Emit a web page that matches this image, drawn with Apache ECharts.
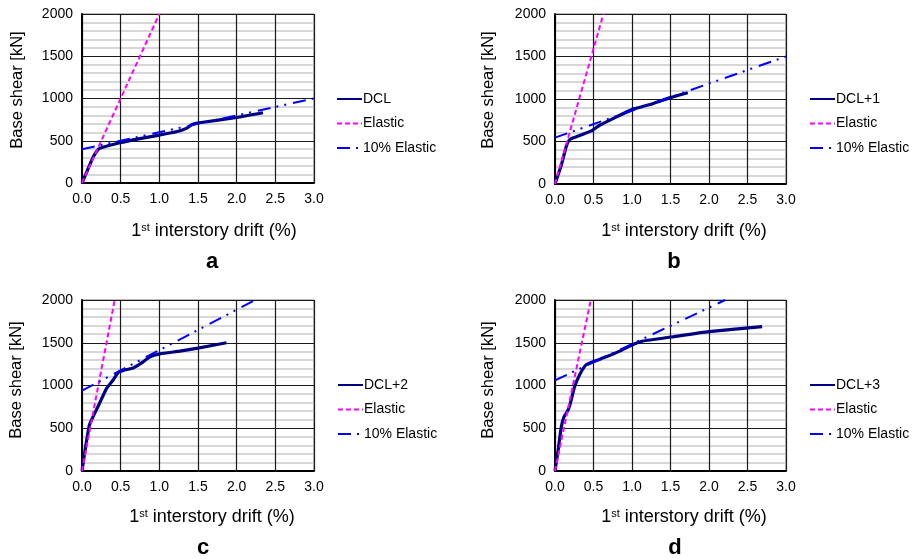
<!DOCTYPE html>
<html>
<head>
<meta charset="utf-8">
<script src="https://cdn.jsdelivr.net/npm/echarts@6/dist/echarts.min.js"></script>
<style>
html,body{margin:0;padding:0;background:#fff;}
#chart{width:919px;height:559px;}
</style>
</head>
<body>
<div id="chart"></div>
<script>
// ---- data ----
const panelLetters = ['a', 'b', 'c', 'd'];
const dclNames = ['DCL', 'DCL+1', 'DCL+2', 'DCL+3'];
const xTicks = [0, 0.5, 1.0, 1.5, 2.0, 2.5, 3.0];
const yTicks = [0, 500, 1000, 1500, 2000];

const dclA = [[0,0],[0.07,150],[0.146,311],[0.21,398],[0.26,420],[0.49,476],[0.75,525],[1.0,567],[1.22,606],[1.35,646],[1.4,680],[1.44,697],[1.52,713],[2.0,775],[2.34,831]];
const dclB = [[0,0],[0.082,223],[0.147,445],[0.19,523],[0.277,555],[0.472,625],[0.58,691],[0.8,790],[1.0,875],[1.27,945],[1.5,1016],[1.725,1074]];
const dclC = [[0,0],[0.026,161],[0.06,358],[0.095,535],[0.138,626],[0.21,760],[0.32,969],[0.405,1067],[0.47,1154],[0.534,1177],[0.663,1205],[0.77,1264],[0.878,1335],[1.007,1370],[1.266,1402],[1.5,1437],[1.868,1500]];
const dclD = [[0,0],[0.04,240],[0.082,516],[0.117,634],[0.17,713],[0.199,791],[0.255,988],[0.32,1126],[0.385,1224],[0.43,1256],[0.667,1335],[0.84,1402],[1.013,1480],[1.143,1520],[1.506,1567],[2.0,1630],[2.69,1689]];

const elasticA = [[0,0],[1.0,2000]];
const elasticB = [[0,0],[0.629,2000]];
const elasticC = [[0,0],[0.423,2000]];
const elasticD = [[0,0],[0.465,2000]];

const tenA = [[0,400],[3,1000]];
const tenB = [[0,545],[3,1500]];
const tenC = [[0,940],[2.24,2000]];
const tenD = [[0,1060],[2.21,2000]];

const dclData = [dclA, dclB, dclC, dclD];
const elasticData = [elasticA, elasticB, elasticC, elasticD];
const tenData = [tenA, tenB, tenC, tenD];

// ---- layout ----
const FONT = '"Liberation Sans", Arial, sans-serif';
const grids = [
  {left: 82, top: 14, width: 232, height: 169},
  {left: 555, top: 14, width: 231, height: 170},
  {left: 82, top: 300, width: 232, height: 171},
  {left: 555, top: 300, width: 231, height: 171}
];
const legendPos = [[336, 92], [809, 92], [337, 378], [809, 378]];
const xTitlePos = [[214, 231], [684, 231], [212, 517], [684, 517]];
const yTitlePos = [[17, 90], [488, 90], [16, 380], [488, 380]];
const letterPos = [[212, 262], [674, 262], [203, 548], [675, 548]];

const option = {
  animation: false,
  backgroundColor: '#fff',
  textStyle: {fontFamily: FONT},
  grid: grids.map(g => Object.assign({show: true, borderColor: '#777', borderWidth: 1, backgroundColor: 'transparent'}, g)),
  xAxis: grids.map((g, i) => ({
    type: 'value', gridIndex: i, min: xTicks[0], max: xTicks[xTicks.length - 1], interval: 0.5,
    axisLine: {show: true, onZero: false, lineStyle: {color: '#000', width: 2}},
    axisTick: {show: false},
    axisLabel: {color: '#000', fontSize: 14, margin: 9, fontFamily: FONT, formatter: v => v.toFixed(1)},
    splitLine: {show: true, lineStyle: {color: '#1a1a1a', width: 1.2}}
  })),
  yAxis: grids.map((g, i) => ({
    type: 'value', gridIndex: i, min: yTicks[0], max: yTicks[yTicks.length - 1], interval: 500,
    axisLine: {show: true, onZero: false, lineStyle: {color: '#000', width: 2}},
    axisTick: {show: false},
    axisLabel: {color: '#000', fontSize: 14, margin: 9, fontFamily: FONT, formatter: v => String(v)},
    splitLine: {show: true, lineStyle: {color: '#1a1a1a', width: 1.2}},
    minorTick: {show: false, splitNumber: 5},
    minorSplitLine: {show: true, lineStyle: {color: '#cacaca', width: 1.6}}
  })),
  legend: legendPos.map((p, i) => ({
    left: p[0], top: p[1], orient: 'vertical', itemWidth: 25, itemHeight: 14, itemGap: 10.5,
    padding: 0, selectedMode: false,
    itemStyle: {opacity: 0, borderWidth: 0},
    textStyle: {color: '#000', fontSize: 14, fontFamily: FONT, padding: [0, 0, 0, -4]},
    data: [dclNames[i], 'Elastic', '10% Elastic']
  })),
  series: [],
  graphic: []
};

for (let i = 0; i < 4; i++) {
  option.series.push({
    name: dclNames[i], type: 'line', xAxisIndex: i, yAxisIndex: i, data: dclData[i],
    symbol: 'none', smooth: 0.15, lineStyle: {color: '#000080', width: 3.2}, itemStyle: {color: '#000080'}
  });
  option.series.push({
    name: 'Elastic', type: 'line', xAxisIndex: i, yAxisIndex: i, data: elasticData[i],
    symbol: 'none', lineStyle: {color: '#ff00ff', width: 2, type: [5, 3]}, itemStyle: {color: '#ff00ff'}
  });
  option.series.push({
    name: '10% Elastic', type: 'line', xAxisIndex: i, yAxisIndex: i, data: tenData[i],
    symbol: 'none', lineStyle: {color: '#0000ff', width: 2, type: [13, 6, 2, 6, 2, 7]}, itemStyle: {color: '#0000ff'}
  });

  option.graphic.push({
    type: 'text', x: xTitlePos[i][0], y: xTitlePos[i][1],
    style: {
      text: '1{sup|st} interstory drift (%)', fill: '#000', font: '18px ' + FONT,
      align: 'center', verticalAlign: 'middle',
      rich: {sup: {fontSize: 11, verticalAlign: 'top', fontFamily: FONT, padding: [0, 0, 6, 0]}}
    }
  });
  option.graphic.push({
    type: 'text', x: yTitlePos[i][0], y: yTitlePos[i][1], rotation: Math.PI / 2,
    style: {text: 'Base shear [kN]', fill: '#000', font: '16.5px ' + FONT, align: 'center', verticalAlign: 'middle'}
  });
  option.graphic.push({
    type: 'text', x: letterPos[i][0], y: letterPos[i][1],
    style: {text: panelLetters[i], fill: '#000', font: 'bold 22px ' + FONT, align: 'center', verticalAlign: 'middle'}
  });
}

const chart = echarts.init(document.getElementById('chart'), null, {renderer: 'canvas'});
chart.setOption(option);
</script>
</body>
</html>
